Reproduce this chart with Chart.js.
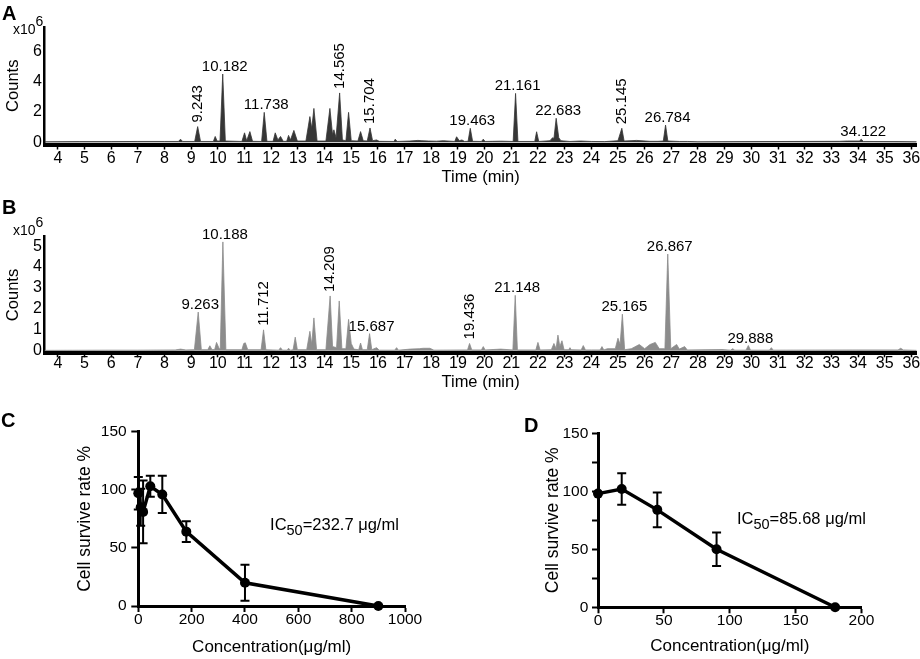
<!DOCTYPE html>
<html lang="en">
<head>
<meta charset="UTF-8">
<title>Chromatograms and cell survival</title>
<style>
  body { margin:0; width:920px; height:659px; overflow:hidden; background:#fff; position:relative;
         font-family: Arial, "Liberation Sans", sans-serif; color:#000; }
  canvas { position:absolute; }
  .tag { position:absolute; font-weight:bold; font-size:20px; line-height:20px; z-index:2; }
  .mult { position:absolute; font-size:14px; line-height:14px; z-index:2; }
  .mult span { position:relative; top:-8px; }
</style>
</head>
<body>
<canvas id="chartA" width="940" height="190" style="left:0;top:0"></canvas>
<canvas id="chartB" width="940" height="205" style="left:0;top:190px"></canvas>
<canvas id="chartC" width="460" height="259" style="left:0;top:400px"></canvas>
<canvas id="chartD" width="460" height="259" style="left:460px;top:400px"></canvas>

<div class="tag" style="left:2px;top:3px">A</div>
<div class="tag" style="left:2px;top:197px">B</div>
<div class="tag" style="left:1px;top:410px">C</div>
<div class="tag" style="left:524px;top:415px">D</div>
<div class="mult" style="left:13px;top:22px">x10<span>6</span></div>
<div class="mult" style="left:13px;top:223px">x10<span>6</span></div>

<script src="https://cdn.jsdelivr.net/npm/chart.js@4.4.1/dist/chart.umd.min.js"></script>
<script>
// ---- panel A trace (counts x10^6 vs retention time, min)
const timeA = [
  3.5, 4.8, 6.0, 7.0, 8.0, 8.52, 8.6, 8.68,
  9.13, 9.243, 9.35, 9.83, 9.9, 9.97, 10.08, 10.182, 10.28,
  10.9, 11.0, 11.08, 11.2, 11.3, 11.64, 11.738, 11.84,
  12.07, 12.15, 12.25, 12.35, 12.45, 12.58, 12.65, 12.72, 12.85, 12.98,
  13.3, 13.45, 13.52, 13.6, 13.72,
  14.05, 14.2, 14.3, 14.35, 14.43, 14.565, 14.67,
  14.8, 14.9, 15.0, 15.25, 15.35, 15.45, 15.6, 15.704, 15.8, 15.95, 16.05,
  16.6, 16.65, 16.72, 17.2, 17.5, 17.65, 17.9, 18.2, 18.45,
  18.88, 18.95, 19.05, 19.15, 19.25, 19.38, 19.463, 19.55, 19.88, 19.95, 20.02,
  20.3, 20.6, 21.07, 21.161, 21.25, 21.88, 21.95, 22.03,
  22.45, 22.55, 22.6, 22.683, 22.78, 22.86, 23.2, 23.6, 24.0, 24.5,
  25.0, 25.145, 25.23, 25.7, 26.2, 26.5, 26.7, 26.784, 26.87,
  27.3, 27.6, 28.0, 29.8, 33.3, 33.6, 34.05, 34.122, 34.2, 35.5, 36.2
];
const countsA = [
  0.03, 0.04, 0.04, 0.05, 0.05, 0.05, 0.2, 0.05,
  0.05, 1.03, 0.05, 0.05, 0.38, 0.08, 0.08, 4.5, 0.08,
  0.05, 0.62, 0.1, 0.7, 0.06, 0.05, 1.97, 0.06,
  0.06, 0.62, 0.15, 0.38, 0.06, 0.06, 0.45, 0.15, 0.78, 0.08,
  0.08, 1.69, 0.9, 2.23, 0.08,
  0.08, 2.23, 0.5, 0.82, 0.3, 3.25, 0.15,
  0.1, 1.97, 0.1, 0.08, 0.7, 0.1, 0.08, 0.94, 0.1, 0.15, 0.06,
  0.05, 0.2, 0.05, 0.08, 0.12, 0.1, 0.08, 0.07, 0.1,
  0.05, 0.36, 0.1, 0.15, 0.05, 0.06, 0.92, 0.06, 0.05, 0.2, 0.05,
  0.06, 0.07, 0.05, 3.22, 0.05, 0.05, 0.69, 0.05,
  0.1, 0.3, 0.25, 1.58, 0.3, 0.1, 0.05, 0.08, 0.05, 0.04,
  0.1, 0.92, 0.08, 0.12, 0.06, 0.06, 0.08, 1.13, 0.08,
  0.05, 0.05, 0.03, 0.04, 0.06, 0.08, 0.08, 0.2, 0.05, 0.04, 0.03
];
const peaksA = ['9.243', '10.182', '11.738', '14.565', '15.704', '19.463',
                '21.161', '22.683', '25.145', '26.784', '34.122'];

// ---- panel B trace
const timeB = [
  3.5, 6.0, 7.0, 8.4, 8.6, 8.8, 9.12, 9.263, 9.38,
  9.62, 9.7, 9.78, 9.88, 9.95, 10.05, 10.09, 10.188, 10.3,
  10.9, 10.97, 11.03, 11.12, 11.62, 11.712, 11.8,
  12.28, 12.35, 12.42, 12.6, 12.65, 12.72, 12.82, 12.9, 12.98,
  13.33, 13.45, 13.52, 13.6, 13.7,
  14.05, 14.209, 14.3, 14.45, 14.55, 14.65,
  14.8, 14.9, 15.0, 15.1, 15.28, 15.35, 15.42, 15.6, 15.687, 15.77, 15.95, 16.05,
  16.63, 16.7, 16.77, 17.2, 17.55, 17.7, 17.95, 18.1,
  19.36, 19.436, 19.52, 19.88, 19.95, 20.02, 20.6, 21.06, 21.148, 21.23,
  21.92, 22.0, 22.08, 22.5, 22.6, 22.68, 22.75, 22.82, 22.9, 22.98,
  23.15, 23.2, 23.25, 23.62, 23.7, 23.78, 24.0, 24.33, 24.4, 24.47, 24.6,
  24.9, 25.0, 25.08, 25.165, 25.25, 25.5, 25.8, 26.0, 26.2, 26.4, 26.55,
  26.76, 26.867, 26.98, 27.2, 27.3, 27.5, 27.6,
  28.9, 29.22, 29.3, 29.38, 29.8, 29.888, 29.97, 30.68, 30.75, 30.82, 34.0, 35.5, 35.6, 35.7, 36.2
];
const countsB = [
  0.02, 0.03, 0.03, 0.04, 0.08, 0.04, 0.05, 1.85, 0.05,
  0.05, 0.24, 0.05, 0.06, 0.4, 0.1, 0.1, 5.2, 0.05,
  0.05, 0.35, 0.38, 0.05, 0.05, 1.0, 0.05,
  0.03, 0.15, 0.03, 0.03, 0.12, 0.03, 0.05, 0.65, 0.05,
  0.05, 0.93, 0.3, 1.57, 0.05,
  0.05, 2.62, 0.2, 0.15, 2.38, 0.1,
  0.1, 1.5, 0.35, 0.08, 0.05, 0.37, 0.05, 0.05, 0.82, 0.05, 0.15, 0.03,
  0.03, 0.15, 0.03, 0.08, 0.1, 0.12, 0.12, 0.03,
  0.04, 0.35, 0.04, 0.04, 0.2, 0.04, 0.08, 0.04, 2.65, 0.04,
  0.04, 0.4, 0.04, 0.05, 0.35, 0.1, 0.75, 0.2, 0.48, 0.05,
  0.05, 0.15, 0.05, 0.04, 0.25, 0.04, 0.04, 0.04, 0.2, 0.04, 0.1,
  0.1, 0.6, 0.3, 1.75, 0.05, 0.1, 0.3, 0.1, 0.3, 0.4, 0.1,
  0.1, 4.62, 0.1, 0.3, 0.08, 0.2, 0.04,
  0.06, 0.03, 0.1, 0.03, 0.03, 0.25, 0.03, 0.03, 0.15, 0.03, 0.04, 0.04, 0.12, 0.04, 0.02
];
const peaksB = ['9.263', '10.188', '11.712', '14.209', '15.687', '19.436',
                '21.148', '25.165', '26.867', '29.888'];

const timeTicks = [4, 5, 6, 7, 8, 9, 10, 11, 12, 13, 14, 15, 16, 17, 18, 19, 20,
                   21, 22, 23, 24, 25, 26, 27, 28, 29, 30, 31, 32, 33, 34, 35, 36];
const countTicksA = [0, 2, 4, 6];
const countTicksB = [0, 1, 2, 3, 4, 5];

// ---- panel C / D survival
const concC = [0, 9, 18, 45, 90, 180, 400, 900];
const rateC = [97, 85, 81, 103, 96, 64, 20, 0];
const errC  = [14, 16, 27, 9, 16, 9, 15.5, 0];
const ic50C = '232.7';

const concD = [0, 18, 45, 90, 180];
const rateD = [98, 102, 84, 50, 0];
const errD  = [0, 13.5, 15, 14.5, 0];
const ic50D = '85.68';

// peak labels printed vertically
const uprightA = ['9.243', '14.565', '15.704', '25.145'];
const uprightB = ['11.712', '14.209', '19.436'];

const FONT = 'Arial, "Liberation Sans", sans-serif';
Chart.defaults.font.family = FONT;
Chart.defaults.color = '#000';

const peakLabels = {
  id: 'peakLabels',
  afterDatasetsDraw(chart, args, opts) {
    const {ctx, scales: {x, y}} = chart;
    const pts = chart.data.datasets[0].data;
    ctx.save();
    ctx.fillStyle = '#000';
    ctx.font = '15px ' + FONT;
    opts.names.forEach(name => {
      const t = parseFloat(name);
      let best = pts[0];
      pts.forEach(p => { if (Math.abs(p.x - t) < Math.abs(best.x - t)) best = p; });
      const px = x.getPixelForValue(t);
      const py = y.getPixelForValue(best.y);
      if (opts.upright.includes(name)) {
        ctx.save();
        ctx.translate(px, py - 4);
        ctx.rotate(-Math.PI / 2);
        ctx.textAlign = 'left';
        ctx.textBaseline = 'middle';
        ctx.fillText(name, 0, 0);
        ctx.restore();
      } else {
        ctx.textAlign = 'center';
        ctx.textBaseline = 'alphabetic';
        ctx.fillText(name, px + 2, py - 3);
      }
    });
    ctx.restore();
  }
};

const errorBars = {
  id: 'errorBars',
  beforeDatasetsDraw(chart, args, opts) {
    const {ctx, scales: {x, y}} = chart;
    ctx.save();
    ctx.strokeStyle = '#000';
    ctx.lineWidth = 2;
    opts.xs.forEach((v, i) => {
      const e = opts.err[i];
      if (!e) return;
      const px = x.getPixelForValue(v);
      const top = y.getPixelForValue(opts.ys[i] + e);
      const bot = y.getPixelForValue(opts.ys[i] - e);
      ctx.beginPath();
      ctx.moveTo(px, top); ctx.lineTo(px, bot);
      ctx.moveTo(px - 4.5, top); ctx.lineTo(px + 4.5, top);
      ctx.moveTo(px - 4.5, bot); ctx.lineTo(px + 4.5, bot);
      ctx.stroke();
    });
    ctx.restore();
  }
};

const icLabel = {
  id: 'icLabel',
  afterDraw(chart, args, opts) {
    const {ctx, scales: {x, y}} = chart;
    let px = x.getPixelForValue(opts.at[0]);
    const py = y.getPixelForValue(opts.at[1]);
    ctx.save();
    ctx.fillStyle = '#000';
    ctx.textAlign = 'left';
    ctx.textBaseline = 'alphabetic';
    ctx.font = '16.5px ' + FONT;
    ctx.fillText('IC', px, py);
    px += ctx.measureText('IC').width;
    ctx.font = '14.5px ' + FONT;
    ctx.fillText('50', px, py + 5);
    px += ctx.measureText('50').width;
    ctx.font = '16.5px ' + FONT;
    ctx.fillText('=' + opts.value + ' μg/ml', px, py);
    ctx.restore();
  }
};

function trace(id, times, counts, colour, cfg) {
  return new Chart(document.getElementById(id), {
    type: 'line',
    data: {
      datasets: [{
        data: times.map((t, i) => ({x: t, y: counts[i]})),
        borderColor: colour,
        backgroundColor: colour,
        borderWidth: 0.8,
        pointRadius: 0,
        tension: 0,
        fill: 'origin'
      }]
    },
    options: {
      responsive: false,
      animation: false,
      events: [],
      layout: {padding: {top: cfg.top, right: 23.3, left: 0, bottom: 0}},
      plugins: {
        legend: {display: false},
        tooltip: {enabled: false},
        peakLabels: {names: cfg.names, upright: cfg.upright}
      },
      scales: {
        x: {
          type: 'linear', min: 3.5, max: 36.2,
          afterFit: s => { s.height = cfg.xHeight; },
          afterBuildTicks: s => { s.ticks = timeTicks.map(v => ({value: v})); },
          ticks: {font: {size: 16}, padding: cfg.tickPad, autoSkip: false, maxRotation: 0},
          grid: {drawOnChartArea: false, tickLength: cfg.tickLen, tickWidth: 1.5, tickColor: '#000'},
          border: {color: '#000', width: 4},
          title: {display: true, text: 'Time (min)', font: {size: 16.5}, padding: {top: 0, bottom: 2.4}}
        },
        y: {
          min: cfg.yMin, max: cfg.yMax,
          afterFit: s => { s.width = 44.5; },
          afterBuildTicks: s => { s.ticks = cfg.yTicks.map(v => ({value: v})); },
          ticks: {font: {size: 16}, padding: 2.5},
          grid: {drawOnChartArea: false, drawTicks: false},
          border: {color: '#000', width: 2.5},
          title: {display: true, text: 'Counts', font: {size: 16.5}, padding: {top: 3.6, bottom: 0}}
        }
      }
    },
    plugins: [peakLabels]
  });
}

trace('chartA', timeA, countsA, '#363636', {
  top: 27, xHeight: 45.5, tickPad: -1, tickLen: 5,
  yMin: -0.15, yMax: 7.6, yTicks: countTicksA, names: peaksA, upright: uprightA
});
trace('chartB', timeB, countsB, '#8c8c8c', {
  top: 46.7, xHeight: 41.7, tickPad: -3.6, tickLen: 4,
  yMin: -0.12, yMax: 5.45, yTicks: countTicksB, names: peaksB, upright: uprightB
});

function survival(id, conc, rate, err, ic, cfg) {
  return new Chart(document.getElementById(id), {
    type: 'line',
    data: {
      datasets: [{
        data: conc.map((c, i) => ({x: c, y: rate[i]})),
        borderColor: '#000',
        backgroundColor: '#000',
        borderWidth: 3.5,
        pointRadius: 5,
        pointBorderWidth: 0,
        tension: 0,
        clip: false
      }]
    },
    options: {
      responsive: false,
      animation: false,
      events: [],
      layout: {padding: {top: cfg.top, right: cfg.right, left: 0, bottom: 0}},
      plugins: {
        legend: {display: false},
        tooltip: {enabled: false},
        errorBars: {xs: conc, ys: rate, err: err},
        icLabel: {value: ic, at: cfg.icAt}
      },
      scales: {
        x: {
          type: 'linear', min: 0, max: cfg.xMax,
          afterFit: s => { s.height = cfg.xHeight; },
          ticks: {stepSize: cfg.xStep, font: {size: 15.5}, padding: -2, maxRotation: 0,
                  callback: v => String(v)},
          grid: {drawOnChartArea: false, tickLength: 6, tickWidth: 2, tickColor: '#000'},
          border: {color: '#000', width: 3},
          title: {display: true, text: 'Concentration(μg/ml)', font: {size: 17}, padding: {top: 0, bottom: cfg.xTitlePad}}
        },
        y: {
          min: 0, max: 150,
          afterFit: s => { s.width = cfg.yWidth; },
          ticks: {
            stepSize: cfg.yStep, font: {size: 15.5}, padding: cfg.yTickPad,
            callback: v => (v % 50 === 0 ? String(v) : '')
          },
          grid: {drawOnChartArea: false, tickLength: cfg.yTickLen, tickWidth: 2, tickColor: '#000'},
          border: {color: '#000', width: 3},
          title: {display: true, text: 'Cell survive rate %', font: {size: 17.5}, padding: {top: cfg.yTitlePad, bottom: 0}}
        }
      }
    },
    plugins: [errorBars, icLabel]
  });
}

survival('chartC', concC, rateC, errC, ic50C, {
  top: 31.7, right: 55, xHeight: 53, xMax: 1000, xStep: 200, xTitlePad: 1,
  yWidth: 138.3, yStep: 50, yTickPad: 4.6, yTickLen: 7, yTitlePad: 74.5, icAt: [494, 65.4]
});
survival('chartD', concD, rateD, errD, ic50D, {
  top: 33.3, right: 58.5, xHeight: 51.7, xMax: 200, xStep: 50, xTitlePad: 2.3,
  yWidth: 138, yStep: 25, yTickPad: 3.7, yTickLen: 6, yTitlePad: 82.8, icAt: [105.5, 71.8]
});
</script>
</body>
</html>
